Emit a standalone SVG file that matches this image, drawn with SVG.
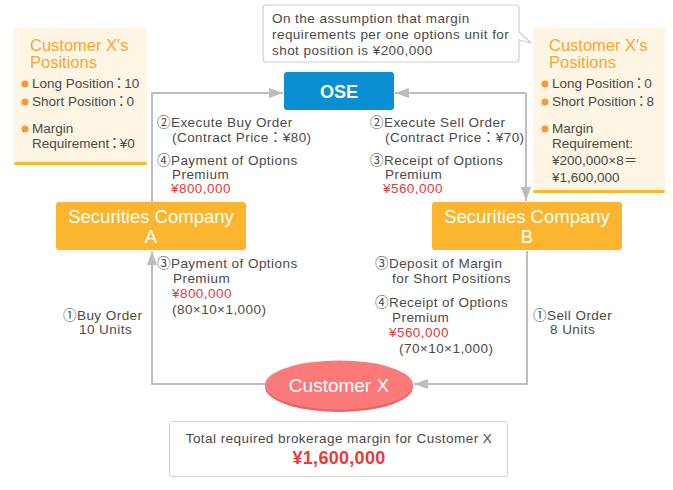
<svg xmlns="http://www.w3.org/2000/svg" width="673" height="490" viewBox="0 0 673 490">
<defs>
<style>
text{font-family:"Liberation Sans","Noto Sans CJK JP",Arial,sans-serif;fill:#4a4a4a;font-size:13.5px;letter-spacing:0.45px}
.b{font-size:13.5px;letter-spacing:0}
.t{font-size:16.5px;fill:#f5a733;letter-spacing:0}
.w{fill:#fff;font-size:18.5px;letter-spacing:0}
.ose{fill:#fff;font-size:18px;font-weight:bold;letter-spacing:0}
.cx{fill:#fff;font-size:19px;letter-spacing:0}
.red{fill:#e8393b}
.big{fill:#e8393b;font-size:18px;font-weight:bold;letter-spacing:0.3px}
.ln{fill:none;stroke:#bdbdbd;stroke-width:2}
.dot{fill:#f59a3c}
.pos{fill:#fef5e4}
</style>
<marker id="ah" viewBox="0 0 14 10" refX="14" refY="5" markerWidth="14" markerHeight="10" markerUnits="userSpaceOnUse" orient="auto">
<path d="M0,0 L14,5 L0,10 Z" fill="#bdbdbd"/>
</marker>
</defs>
<rect width="673" height="490" fill="#fff"/>

<g id="connectors">
<path class="ln" d="M152,202 V93 H283" marker-end="url(#ah)"/>
<path class="ln" d="M526,93 H395" marker-end="url(#ah)"/>
<path class="ln" d="M526,93 V201" marker-end="url(#ah)"/>
<path class="ln" d="M266,384 H152 V251" marker-end="url(#ah)"/>
<path class="ln" d="M527,251 V384 H414" marker-end="url(#ah)"/>
</g>

<g id="posA">
<rect class="pos" x="14" y="27" width="133" height="138" rx="3"/>
<rect x="14" y="162" width="133" height="3" rx="1.5" fill="#f9b92e"/>
<text class="t" x="30" y="51">Customer X's</text>
<text class="t" x="30" y="68">Positions</text>
<circle class="dot" cx="25" cy="84" r="3.5"/>
<text class="b" x="32" y="88">Long Position<tspan dx="-1.5">：</tspan><tspan dx="-1.5">10</tspan></text>
<circle class="dot" cx="25" cy="102" r="3.5"/>
<text class="b" x="32" y="106">Short Position<tspan dx="-1.5">：</tspan><tspan dx="-1.5">0</tspan></text>
<circle class="dot" cx="25" cy="129" r="3.5"/>
<text class="b" x="32" y="133">Margin</text>
<text class="b" x="32" y="148">Requirement<tspan dx="-1.5">：</tspan><tspan dx="-1.5">¥0</tspan></text>
</g>

<g id="posB">
<rect class="pos" x="533" y="27" width="132" height="166" rx="3"/>
<rect x="533" y="190" width="132" height="3" rx="1.5" fill="#f9b92e"/>
<text class="t" x="549" y="51">Customer X's</text>
<text class="t" x="549" y="68">Positions</text>
<circle class="dot" cx="545" cy="84" r="3.5"/>
<text class="b" x="552" y="88">Long Position<tspan dx="-1.5">：</tspan><tspan dx="-1.5">0</tspan></text>
<circle class="dot" cx="545" cy="102" r="3.5"/>
<text class="b" x="552" y="106">Short Position<tspan dx="-1.5">：</tspan><tspan dx="-1.5">8</tspan></text>
<circle class="dot" cx="545" cy="129" r="3.5"/>
<text class="b" x="552" y="133">Margin</text>
<text class="b" x="552" y="148">Requirement:</text>
<text class="b" x="552" y="165">¥200,000×8＝</text>
<text class="b" x="552" y="182">¥1,600,000</text>
</g>

<g id="note">
<path d="M266,5 H516 Q519,5 519,8 V32 L531,43 L519,40 V59 Q519,62 516,62 H266 Q263,62 263,59 V8 Q263,5 266,5 Z" fill="#fff" stroke="#cfcfcf" stroke-width="1.2"/>
<text x="272" y="23">On the assumption that margin</text>
<text x="272" y="39">requirements per one options unit for</text>
<text x="272" y="55">shot position is ¥200,000</text>
</g>

<g id="ose">
<rect x="284" y="72" width="110" height="38" rx="3" fill="#0a8fd2"/>
<text class="ose" x="339" y="98" text-anchor="middle">OSE</text>
</g>

<g id="scA">
<rect x="56" y="202" width="190" height="48" rx="3" fill="#fbb52f"/>
<text class="w" x="151" y="223" text-anchor="middle">Securities Company</text>
<text class="w" x="151" y="243" text-anchor="middle">A</text>
</g>

<g id="scB">
<rect x="432" y="202" width="190" height="48" rx="3" fill="#fbb52f"/>
<text class="w" x="527" y="223" text-anchor="middle">Securities Company</text>
<text class="w" x="527" y="243" text-anchor="middle">B</text>
</g>

<g id="customer">
<ellipse cx="339" cy="387" rx="74" ry="25" fill="#e76565"/>
<ellipse cx="339" cy="385" rx="74" ry="24.5" fill="#fa7a7a"/>
<text class="cx" x="339" y="392" text-anchor="middle">Customer X</text>
</g>

<g id="labels">
<text x="157" y="127">②Execute Buy Order</text>
<text x="172" y="142">(Contract Price：¥80)</text>
<text x="157" y="165">④Payment of Options</text>
<text x="172" y="179">Premium</text>
<text class="red" x="171" y="193">¥800,000</text>

<text x="370" y="127">②Execute Sell Order</text>
<text x="385" y="142">(Contract Price：¥70)</text>
<text x="370" y="165">③Receipt of Options</text>
<text x="385" y="179">Premium</text>
<text class="red" x="383" y="193">¥560,000</text>

<text x="157" y="268">③Payment of Options</text>
<text x="173" y="283">Premium</text>
<text class="red" x="172" y="298">¥800,000</text>
<text x="172" y="314">(80×10×1,000)</text>
<text x="63" y="320">①Buy Order</text>
<text x="79" y="334">10 Units</text>

<text x="375" y="268">③Deposit of Margin</text>
<text x="392" y="283">for Short Positions</text>
<text x="375" y="307">④Receipt of Options</text>
<text x="392" y="322">Premium</text>
<text class="red" x="389" y="337">¥560,000</text>
<text x="399" y="353">(70×10×1,000)</text>
<text x="533" y="320">①Sell Order</text>
<text x="550" y="334">8 Units</text>
</g>

<g id="total">
<rect x="169.5" y="421.5" width="338" height="55" rx="2" fill="#fff" stroke="#d3d3d3"/>
<text x="339" y="443" text-anchor="middle">Total required brokerage margin for Customer X</text>
<text class="big" x="339" y="464" text-anchor="middle">¥1,600,000</text>
</g>
</svg>
